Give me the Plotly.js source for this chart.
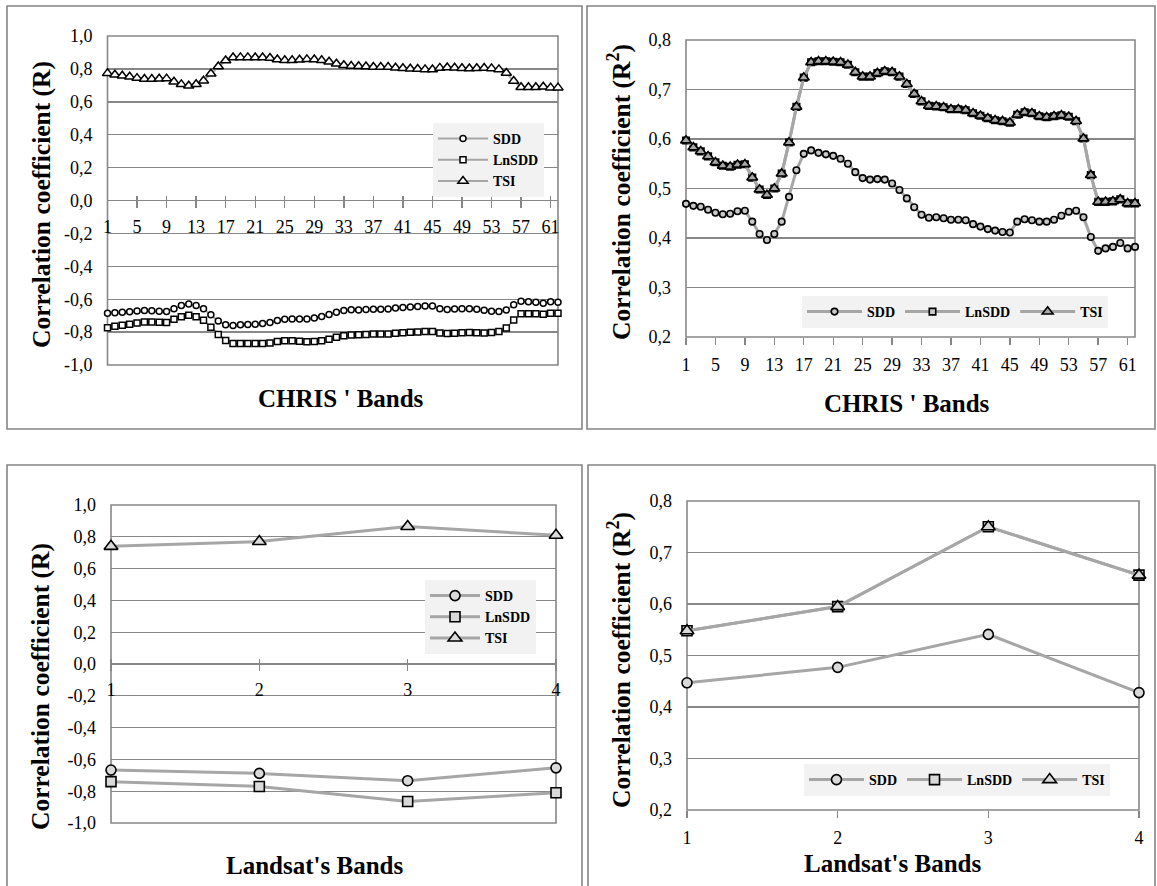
<!DOCTYPE html>
<html><head><meta charset="utf-8">
<script src="https://cdn.plot.ly/plotly-3.0.1.min.js"></script>
<style>html,body{margin:0;padding:0;background:#fff}#chart{width:1157px;height:886px}</style>
</head><body><div id="chart"></div>
<script>
// ---------- data ----------
const seriesNames = ['SDD', 'LnSDD', 'TSI'];
const chrisBands = [1,2,3,4,5,6,7,8,9,10,11,12,13,14,15,16,17,18,19,20,21,22,23,24,25,26,27,28,29,30,31,32,33,34,35,36,37,38,39,40,41,42,43,44,45,46,47,48,49,50,51,52,53,54,55,56,57,58,59,60,61,62];
const chrisTickVals = [1,5,9,13,17,21,25,29,33,37,41,45,49,53,57,61];
const chrisTickText = ['1','5','9','13','17','21','25','29','33','37','41','45','49','53','57','61'];
const landsatBands = [1,2,3,4];
const landsatTickText = ['1','2','3','4'];
const rTickVals = [-1,-0.8,-0.6,-0.4,-0.2,0,0.2,0.4,0.6,0.8,1];
const rTickText = ['-1,0','-0,8','-0,6','-0,4','-0,2','0,0','0,2','0,4','0,6','0,8','1,0'];
const r2TickVals = [0.2,0.3,0.4,0.5,0.6,0.7,0.8];
const r2TickText = ['0,2','0,3','0,4','0,5','0,6','0,7','0,8'];

const chrisR_SDD = [-0.685,-0.682,-0.680,-0.676,-0.672,-0.669,-0.670,-0.674,-0.675,-0.658,
 -0.639,-0.629,-0.639,-0.658,-0.695,-0.733,-0.755,-0.760,-0.756,-0.754,
 -0.752,-0.748,-0.742,-0.730,-0.722,-0.720,-0.721,-0.720,-0.714,-0.705,
 -0.693,-0.680,-0.669,-0.664,-0.665,-0.663,-0.661,-0.661,-0.660,-0.654,
 -0.650,-0.647,-0.644,-0.642,-0.641,-0.658,-0.662,-0.660,-0.658,-0.658,
 -0.661,-0.667,-0.673,-0.675,-0.665,-0.634,-0.612,-0.616,-0.618,-0.624,
 -0.616,-0.618];
const chrisR_LnSDD = [-0.773,-0.764,-0.758,-0.752,-0.744,-0.739,-0.738,-0.740,-0.741,-0.722,
 -0.706,-0.698,-0.707,-0.728,-0.770,-0.815,-0.851,-0.869,-0.870,-0.870,
 -0.869,-0.869,-0.866,-0.857,-0.852,-0.852,-0.856,-0.858,-0.857,-0.852,
 -0.843,-0.831,-0.822,-0.817,-0.816,-0.815,-0.812,-0.812,-0.811,-0.807,
 -0.804,-0.801,-0.799,-0.797,-0.796,-0.806,-0.809,-0.807,-0.804,-0.802,
 -0.804,-0.805,-0.803,-0.797,-0.775,-0.726,-0.688,-0.688,-0.688,-0.691,
 -0.686,-0.686];
const chrisR_TSI = [0.773,0.764,0.758,0.752,0.744,0.739,0.738,0.740,0.741,0.722,
 0.706,0.698,0.707,0.728,0.770,0.815,0.851,0.869,0.870,0.870,
 0.869,0.869,0.866,0.857,0.852,0.852,0.856,0.858,0.857,0.852,
 0.843,0.831,0.822,0.817,0.816,0.815,0.812,0.812,0.811,0.807,
 0.804,0.801,0.799,0.797,0.796,0.806,0.809,0.807,0.804,0.802,
 0.804,0.805,0.803,0.797,0.775,0.726,0.688,0.688,0.688,0.691,
 0.686,0.686];

const chrisR2_SDD = [0.469,0.465,0.463,0.457,0.451,0.448,0.449,0.454,0.455,0.433,
 0.408,0.396,0.408,0.433,0.483,0.537,0.570,0.577,0.572,0.569,
 0.566,0.560,0.550,0.533,0.521,0.518,0.519,0.518,0.510,0.497,
 0.480,0.462,0.447,0.441,0.442,0.440,0.437,0.437,0.436,0.428,
 0.423,0.418,0.415,0.412,0.411,0.433,0.438,0.436,0.433,0.433,
 0.437,0.445,0.453,0.455,0.442,0.402,0.374,0.379,0.382,0.390,
 0.379,0.382];
const chrisR2_LnSDD = [0.597,0.583,0.575,0.565,0.553,0.546,0.544,0.548,0.549,0.522,
 0.498,0.487,0.500,0.530,0.593,0.665,0.724,0.755,0.757,0.757,
 0.756,0.755,0.750,0.735,0.726,0.726,0.733,0.737,0.735,0.726,
 0.711,0.691,0.676,0.667,0.666,0.664,0.660,0.660,0.658,0.652,
 0.647,0.642,0.638,0.636,0.633,0.649,0.654,0.652,0.646,0.644,
 0.646,0.648,0.645,0.636,0.601,0.527,0.473,0.473,0.474,0.478,
 0.470,0.470];
const chrisR2_TSI = [0.597,0.583,0.575,0.565,0.553,0.546,0.544,0.548,0.549,0.522,
 0.498,0.487,0.500,0.530,0.593,0.665,0.724,0.755,0.757,0.757,
 0.756,0.755,0.750,0.735,0.726,0.726,0.733,0.737,0.735,0.726,
 0.711,0.691,0.676,0.667,0.666,0.664,0.660,0.660,0.658,0.652,
 0.647,0.642,0.638,0.636,0.633,0.649,0.654,0.652,0.646,0.644,
 0.646,0.648,0.645,0.636,0.601,0.527,0.473,0.473,0.474,0.478,
 0.470,0.470];

const landsatR_SDD = [-0.667,-0.688,-0.734,-0.653];
const landsatR_LnSDD = [-0.740,-0.770,-0.865,-0.810];
const landsatR_TSI = [0.740,0.770,0.865,0.810];
const landsatR2_SDD = [0.447,0.477,0.541,0.428];
const landsatR2_LnSDD = [0.548,0.595,0.750,0.656];
const landsatR2_TSI = [0.548,0.595,0.750,0.656];

// ---------- helpers ----------
const W = 1157, H = 886;
const fx = v => v / W;
const fy = v => 1 - v / H;
const FONT = 'Liberation Serif';
const GRID = '#878787';
const LINE = '#a6a6a6';
const symbols = ['circle', 'square', 'triangle-up'];

function panelTraces(x, ys, xa, ya, legend, st) {
  return ys.map((y, i) => ({
    type: 'scatter', mode: 'lines+markers', x: x, y: y, name: seriesNames[i],
    xaxis: xa, yaxis: ya, legend: legend, cliponaxis: false,
    line: {color: LINE, width: st.lw},
    marker: {symbol: symbols[i], size: st.size[i], color: st.fill[i],
             line: {color: '#000', width: st.mlw}}
  }));
}

const stTL = {lw: 2, size: [6, 6, 9], fill: ['#fff', '#fff', '#fff'], mlw: 1.5};
const stTR = {lw: 3, size: [6.5, 6.5, 9.5], fill: ['#c8c8c8', '#c8c8c8', '#a8a8a8'], mlw: 1.6};
const stB  = {lw: 3, size: [10, 10, 12], fill: ['#d9d9d9', '#d9d9d9', '#d9d9d9'], mlw: 1.6};

const data = [].concat(
  panelTraces(chrisBands, [chrisR_SDD, chrisR_LnSDD, chrisR_TSI], 'x', 'y', 'legend', stTL),
  panelTraces(chrisBands, [chrisR2_SDD, chrisR2_LnSDD, chrisR2_TSI], 'x2', 'y2', 'legend2', stTR),
  panelTraces(landsatBands, [landsatR_SDD, landsatR_LnSDD, landsatR_TSI], 'x3', 'y3', 'legend3', stB),
  panelTraces(landsatBands, [landsatR2_SDD, landsatR2_LnSDD, landsatR2_TSI], 'x4', 'y4', 'legend4', stB)
);

const tickFont = {family: FONT, size: 18, color: '#000'};
const yBase = {showgrid: true, gridcolor: GRID, gridwidth: 1.4, zeroline: false, showline: false,
  ticks: '', tickfont: tickFont, ticklabelstandoff: 14, tickmode: 'array', fixedrange: true};
const xBase = {showgrid: false, zeroline: false, showline: false, tickmode: 'array',
  tickfont: tickFont, tickcolor: GRID, tickwidth: 1.4, fixedrange: true};

const legBase = {xanchor: 'left', yanchor: 'top', bgcolor: '#f2f2f2', borderwidth: 0,
  font: {family: FONT, size: 14, weight: 'bold', color: '#000'}, itemwidth: 50, traceorder: 'normal'};

function frame(x0, y0, x1, y1) {
  return {type: 'rect', xref: 'paper', yref: 'paper', x0: fx(x0), x1: fx(x1), y0: fy(y1), y1: fy(y0),
    line: {color: '#858585', width: 1.6}, layer: 'below'};
}
function plotBox(xa, ya) {
  return {type: 'rect', xref: xa + ' domain', yref: ya + ' domain', x0: 0, x1: 1, y0: 0, y1: 1,
    line: {color: GRID, width: 1.6}, layer: 'below'};
}
function title(text, x, y, vertical) {
  return {text: text, xref: 'paper', yref: 'paper', x: fx(x), y: fy(y), xanchor: 'center', yanchor: 'middle',
    showarrow: false, textangle: vertical ? -90 : 0,
    font: {family: FONT, size: vertical ? 25.5 : 25, weight: 'bold', color: '#000'}};
}

const layout = {
  width: W, height: H, margin: {l: 0, r: 0, t: 0, b: 0},
  paper_bgcolor: '#fff', plot_bgcolor: 'rgba(0,0,0,0)',
  font: {family: FONT, color: '#000'}, hovermode: false,
  // top-left: CHRIS, R
  xaxis: Object.assign({}, xBase, {domain: [fx(107.5), fx(558)], range: [1, 62], anchor: 'free', position: fy(195),
    tickvals: chrisTickVals, ticktext: chrisTickText, ticks: 'outside', ticklen: 12, ticklabelstandoff: 3}),
  yaxis: Object.assign({}, yBase, {domain: [fy(365), fy(36)], range: [-1, 1], anchor: 'x',
    tickvals: rTickVals, ticktext: rTickText}),
  // top-right: CHRIS, R2
  xaxis2: Object.assign({}, xBase, {domain: [fx(686), fx(1135)], range: [1, 62], anchor: 'y2',
    tickvals: chrisTickVals, ticktext: chrisTickText, ticks: 'outside', ticklen: 7, ticklabelstandoff: 4}),
  yaxis2: Object.assign({}, yBase, {domain: [fy(337), fy(40)], range: [0.2, 0.8], anchor: 'x2',
    tickvals: r2TickVals, ticktext: r2TickText}),
  // bottom-left: Landsat, R
  xaxis3: Object.assign({}, xBase, {domain: [fx(111), fx(556)], range: [1, 4], anchor: 'free', position: fy(658),
    tickvals: landsatBands, ticktext: landsatTickText, ticks: 'outside', ticklen: 12, ticklabelstandoff: 3}),
  yaxis3: Object.assign({}, yBase, {domain: [fy(823), fy(505)], range: [-1, 1], anchor: 'x3',
    tickvals: rTickVals, ticktext: rTickText}),
  // bottom-right: Landsat, R2
  xaxis4: Object.assign({}, xBase, {domain: [fx(687), fx(1139)], range: [1, 4], anchor: 'y4',
    tickvals: landsatBands, ticktext: landsatTickText, ticks: 'outside', ticklen: 7, ticklabelstandoff: 4}),
  yaxis4: Object.assign({}, yBase, {domain: [fy(810), fy(501)], range: [0.2, 0.8], anchor: 'x4',
    tickvals: r2TickVals, ticktext: r2TickText}),

  legend: Object.assign({}, legBase, {x: fx(433), y: fy(123), orientation: 'v'}),
  legend2: Object.assign({}, legBase, {x: fx(802), y: fy(296), orientation: 'h', itemwidth: 55}),
  legend3: Object.assign({}, legBase, {x: fx(425), y: fy(580), orientation: 'v'}),
  legend4: Object.assign({}, legBase, {x: fx(804), y: fy(764), orientation: 'h', itemwidth: 55}),

  shapes: [
    frame(7, 6, 582, 429), frame(587, 6, 1155, 429),
    frame(7, 465, 582, 892), frame(588, 465, 1155, 892),
    plotBox('x', 'y'), plotBox('x2', 'y2'), plotBox('x3', 'y3'), plotBox('x4', 'y4')
  ],
  annotations: [
    title('Correlation coefficient (R)', 41, 205, true),
    title("CHRIS ' Bands", 341, 398, false),
    title('Correlation coefficient (R<sup>2</sup>)', 619, 192, true),
    title("CHRIS ' Bands", 907, 403, false),
    title('Correlation coefficient (R)', 40, 687, true),
    title("Landsat's Bands", 314, 865, false),
    title('Correlation coefficient (R<sup>2</sup>)', 619, 660, true),
    title("Landsat's Bands", 892, 863, false)
  ]
};

Plotly.newPlot('chart', data, layout, {displayModeBar: false, staticPlot: true});
</script>
</body></html>
